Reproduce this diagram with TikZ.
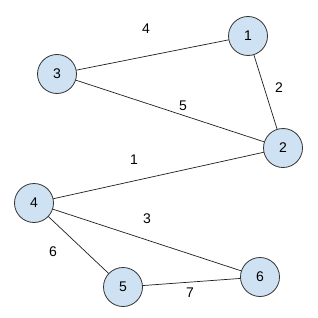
\documentclass[tikz,border=0pt]{standalone}
\usepackage{fontspec}
\setmainfont{Liberation Sans}
\usepackage{xcolor}
\definecolor{vertexcol}{RGB}{207,226,243}
\definecolor{rimcol}{RGB}{51,51,51}
\definecolor{edgecol}{RGB}{30,30,30}
\newcommand{\wlbl}[4]{\node[weight] (#1) at (#2,#3) {#4};}

\begin{document}
\begin{tikzpicture}[x=1pt, y=-1pt, line cap=round, line join=round,
  vertex/.style={circle, draw=rimcol, line width=0.8pt, fill=vertexcol,
    minimum size=39pt, inner sep=0pt, font=\fontsize{14}{16}\selectfont},
  weight/.style={font=\fontsize{14}{16}\selectfont, inner sep=1pt},
  link/.style={edgecol, line width=0.7pt}]

\useasboundingbox (0,0) rectangle (317,318);

% ------------------------------------------------------------------
% Vertices
% ------------------------------------------------------------------
\node[vertex] (v1) at (248,36)  {1};
\node[vertex] (v2) at (283,148) {2};
\node[vertex] (v3) at (57,74)   {3};
\node[vertex] (v4) at (34,203)  {4};
\node[vertex] (v5) at (123,287) {5};
\node[vertex] (v6) at (260,277) {6};

% ------------------------------------------------------------------
% Edges
% ------------------------------------------------------------------
\foreach \a/\b in {v3/v1, v1/v2, v3/v2, v4/v2, v4/v6, v4/v5, v5/v6}{
  \draw[link] (\a) -- (\b);
}

% ------------------------------------------------------------------
% Edge weights
% ------------------------------------------------------------------
\wlbl{w31}{146}{29}{4}
\wlbl{w12}{279}{88}{2}
\wlbl{w32}{183}{106}{5}
\wlbl{w42}{134}{160}{1}
\wlbl{w46}{147}{219}{3}
\wlbl{w45}{53}{252}{6}
\wlbl{w56}{190}{293}{7}

\end{tikzpicture}
\end{document}
